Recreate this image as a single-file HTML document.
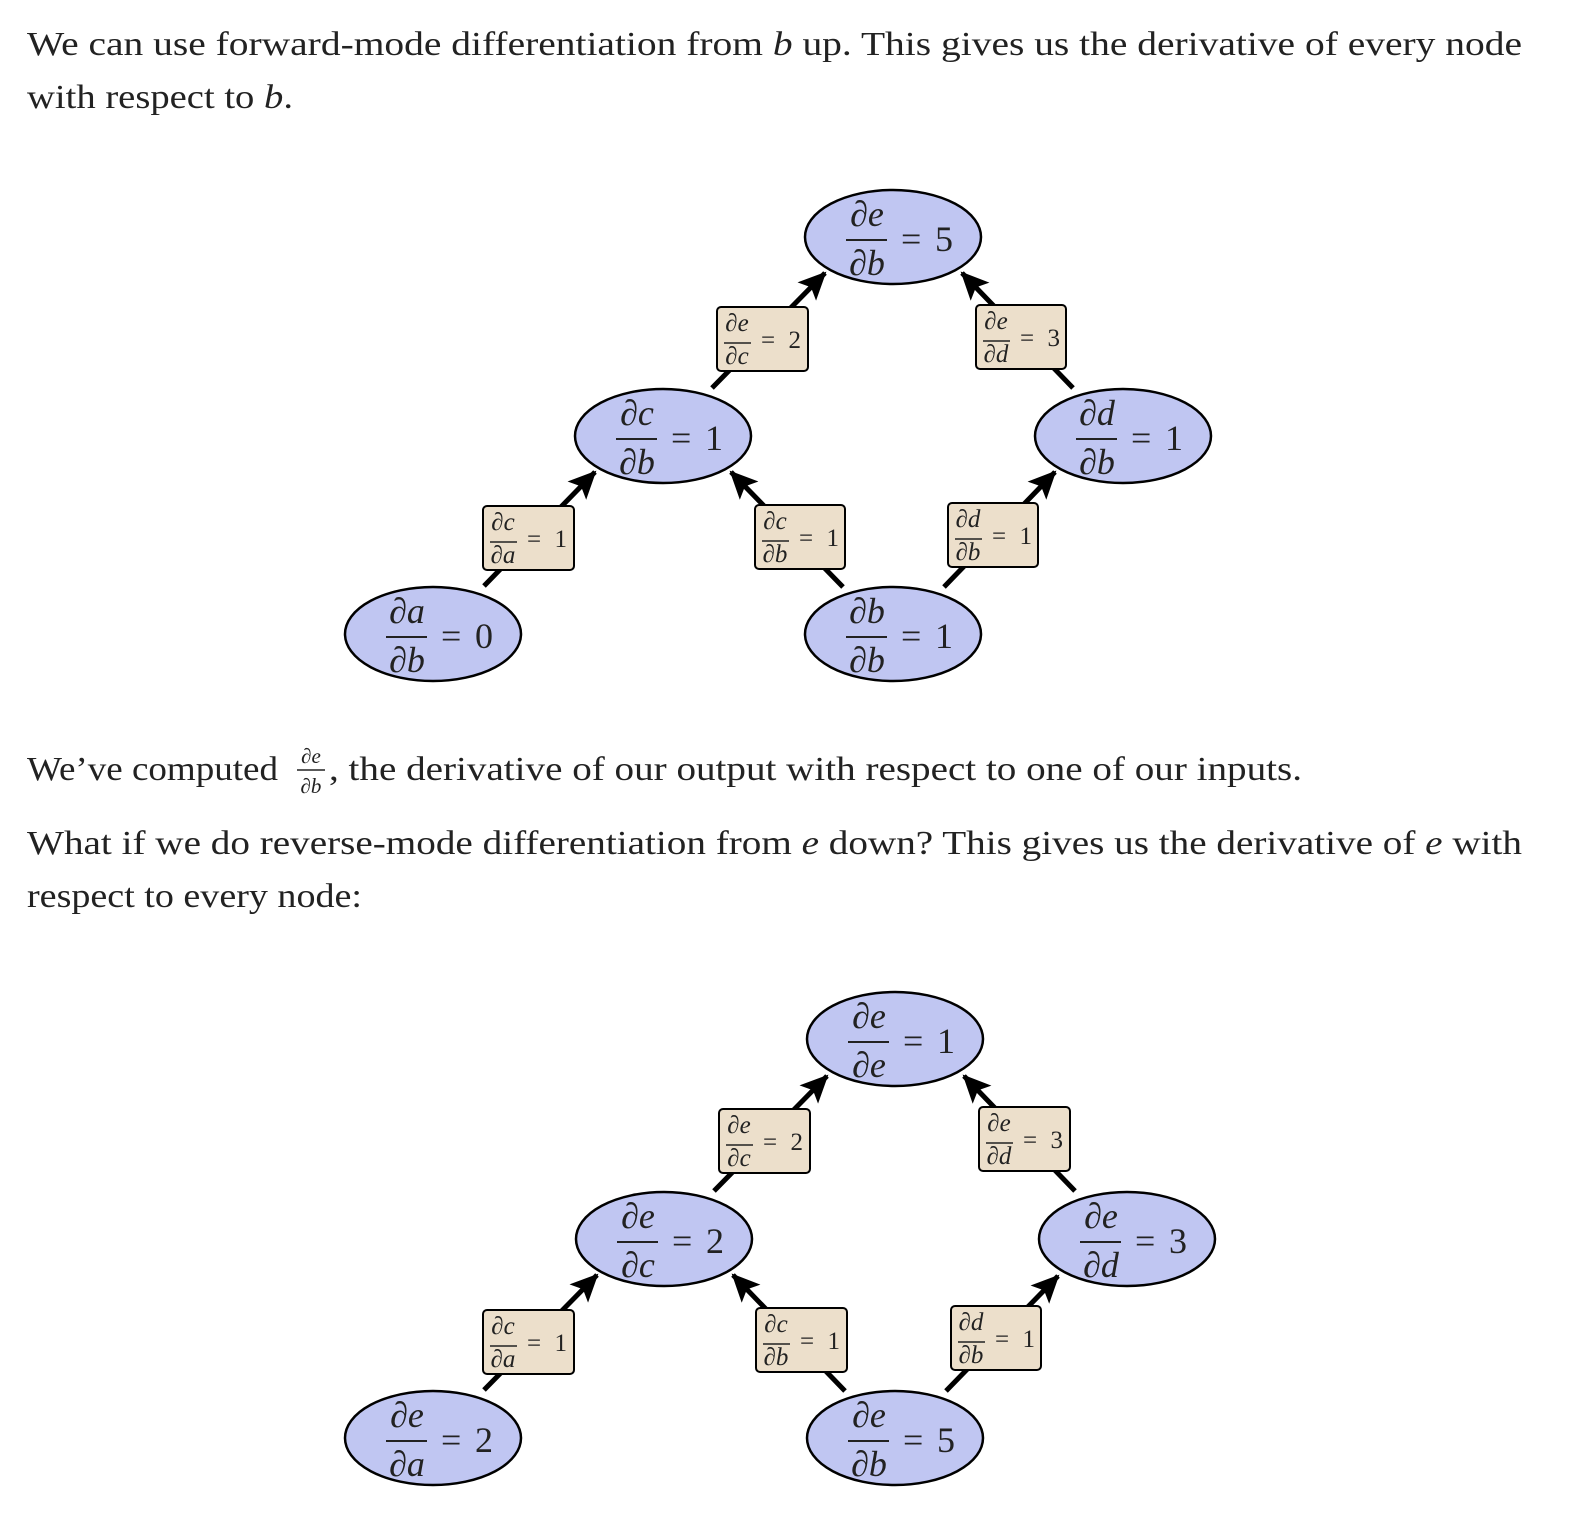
<!DOCTYPE html>
<html><head><meta charset="utf-8"><style>
html,body{margin:0;padding:0;background:#fff}
svg{display:block}
</style></head><body>
<svg width="1572" height="1522" viewBox="0 0 1572 1522" xmlns="http://www.w3.org/2000/svg" font-family="'Liberation Serif', serif" fill="#222">
<defs>
<marker id="ah" markerUnits="userSpaceOnUse" markerWidth="30" markerHeight="30" refX="26" refY="13" orient="auto" viewBox="0 0 30 26">
<path d="M0,0 L28,13 L0,26 L6,13 Z" fill="#000"/>
</marker>
</defs>
<!-- paragraphs -->
<g font-size="34">
<text x="27" y="55" textLength="1495" lengthAdjust="spacingAndGlyphs">We can use forward-mode differentiation from <tspan font-style="italic">b</tspan> up. This gives us the derivative of every node</text>
<text x="27" y="108" textLength="266" lengthAdjust="spacingAndGlyphs">with respect to <tspan font-style="italic">b</tspan>.</text>

<text x="27" y="780" textLength="251" lengthAdjust="spacingAndGlyphs">We’ve computed</text>
<text x="329" y="780" textLength="973" lengthAdjust="spacingAndGlyphs">, the derivative of our output with respect to one of our inputs.</text>

<text x="27" y="854" textLength="1495" lengthAdjust="spacingAndGlyphs">What if we do reverse-mode differentiation from <tspan font-style="italic">e</tspan> down? This gives us the derivative of <tspan font-style="italic">e</tspan> with</text>
<text x="27" y="907" textLength="335" lengthAdjust="spacingAndGlyphs">respect to every node:</text>
</g>
<text x="311" y="763" font-size="21" font-style="italic" text-anchor="middle">∂e</text>
<line x1="297" y1="770" x2="325" y2="770" stroke="#222" stroke-width="1.5"/>
<text x="311" y="793" font-size="21" font-style="italic" text-anchor="middle">∂b</text>

<g stroke="#000" stroke-width="5" marker-end="url(#ah)">
<line x1="484" y1="586" x2="595" y2="472"/>
<line x1="843" y1="587" x2="731" y2="472"/>
<line x1="944" y1="587" x2="1055" y2="472"/>
<line x1="712" y1="388" x2="825" y2="273"/>
<line x1="1073" y1="388" x2="962" y2="273"/>
<line x1="484" y1="1390" x2="597" y2="1275"/>
<line x1="845" y1="1391" x2="733" y2="1275"/>
<line x1="946" y1="1391" x2="1058" y2="1276"/>
<line x1="714" y1="1191" x2="827" y2="1076"/>
<line x1="1075" y1="1191" x2="964" y2="1076"/>
</g>

<!-- nodes -->
<g font-size="36">
<g transform="translate(893,237)"><ellipse rx="88" ry="47" fill="#c0c6f2" stroke="#000" stroke-width="2.5"/><text x="-26" y="-11" font-style="italic" text-anchor="middle">∂e</text><line x1="-47" y1="3" x2="-6" y2="3" stroke="#222" stroke-width="2"/><text x="-26" y="38" font-style="italic" text-anchor="middle">∂b</text><text x="8" y="14" textLength="52" lengthAdjust="spacing">= 5</text></g>
<g transform="translate(663,436)"><ellipse rx="88" ry="47" fill="#c0c6f2" stroke="#000" stroke-width="2.5"/><text x="-26" y="-11" font-style="italic" text-anchor="middle">∂c</text><line x1="-47" y1="3" x2="-6" y2="3" stroke="#222" stroke-width="2"/><text x="-26" y="38" font-style="italic" text-anchor="middle">∂b</text><text x="8" y="14" textLength="52" lengthAdjust="spacing">= 1</text></g>
<g transform="translate(1123,436)"><ellipse rx="88" ry="47" fill="#c0c6f2" stroke="#000" stroke-width="2.5"/><text x="-26" y="-11" font-style="italic" text-anchor="middle">∂d</text><line x1="-47" y1="3" x2="-6" y2="3" stroke="#222" stroke-width="2"/><text x="-26" y="38" font-style="italic" text-anchor="middle">∂b</text><text x="8" y="14" textLength="52" lengthAdjust="spacing">= 1</text></g>
<g transform="translate(433,634)"><ellipse rx="88" ry="47" fill="#c0c6f2" stroke="#000" stroke-width="2.5"/><text x="-26" y="-11" font-style="italic" text-anchor="middle">∂a</text><line x1="-47" y1="3" x2="-6" y2="3" stroke="#222" stroke-width="2"/><text x="-26" y="38" font-style="italic" text-anchor="middle">∂b</text><text x="8" y="14" textLength="52" lengthAdjust="spacing">= 0</text></g>
<g transform="translate(893,634)"><ellipse rx="88" ry="47" fill="#c0c6f2" stroke="#000" stroke-width="2.5"/><text x="-26" y="-11" font-style="italic" text-anchor="middle">∂b</text><line x1="-47" y1="3" x2="-6" y2="3" stroke="#222" stroke-width="2"/><text x="-26" y="38" font-style="italic" text-anchor="middle">∂b</text><text x="8" y="14" textLength="52" lengthAdjust="spacing">= 1</text></g>

<g transform="translate(895,1039)"><ellipse rx="88" ry="47" fill="#c0c6f2" stroke="#000" stroke-width="2.5"/><text x="-26" y="-11" font-style="italic" text-anchor="middle">∂e</text><line x1="-47" y1="3" x2="-6" y2="3" stroke="#222" stroke-width="2"/><text x="-26" y="38" font-style="italic" text-anchor="middle">∂e</text><text x="8" y="14" textLength="52" lengthAdjust="spacing">= 1</text></g>
<g transform="translate(664,1239)"><ellipse rx="88" ry="47" fill="#c0c6f2" stroke="#000" stroke-width="2.5"/><text x="-26" y="-11" font-style="italic" text-anchor="middle">∂e</text><line x1="-47" y1="3" x2="-6" y2="3" stroke="#222" stroke-width="2"/><text x="-26" y="38" font-style="italic" text-anchor="middle">∂c</text><text x="8" y="14" textLength="52" lengthAdjust="spacing">= 2</text></g>
<g transform="translate(1127,1239)"><ellipse rx="88" ry="47" fill="#c0c6f2" stroke="#000" stroke-width="2.5"/><text x="-26" y="-11" font-style="italic" text-anchor="middle">∂e</text><line x1="-47" y1="3" x2="-6" y2="3" stroke="#222" stroke-width="2"/><text x="-26" y="38" font-style="italic" text-anchor="middle">∂d</text><text x="8" y="14" textLength="52" lengthAdjust="spacing">= 3</text></g>
<g transform="translate(433,1438)"><ellipse rx="88" ry="47" fill="#c0c6f2" stroke="#000" stroke-width="2.5"/><text x="-26" y="-11" font-style="italic" text-anchor="middle">∂e</text><line x1="-47" y1="3" x2="-6" y2="3" stroke="#222" stroke-width="2"/><text x="-26" y="38" font-style="italic" text-anchor="middle">∂a</text><text x="8" y="14" textLength="52" lengthAdjust="spacing">= 2</text></g>
<g transform="translate(895,1438)"><ellipse rx="88" ry="47" fill="#c0c6f2" stroke="#000" stroke-width="2.5"/><text x="-26" y="-11" font-style="italic" text-anchor="middle">∂e</text><line x1="-47" y1="3" x2="-6" y2="3" stroke="#222" stroke-width="2"/><text x="-26" y="38" font-style="italic" text-anchor="middle">∂b</text><text x="8" y="14" textLength="52" lengthAdjust="spacing">= 5</text></g>
</g>

<!-- edge labels -->
<g font-size="25">
<g transform="translate(717,307)"><rect x="0" y="0" width="91" height="64" rx="4" fill="#ecdfcb" stroke="#000" stroke-width="2"/><text x="20" y="24" font-style="italic" text-anchor="middle">∂e</text><line x1="7" y1="36" x2="34" y2="36" stroke="#222" stroke-width="1.5"/><text x="20" y="57" font-style="italic" text-anchor="middle">∂c</text><text x="44" y="41" textLength="40" lengthAdjust="spacing">= 2</text></g>
<g transform="translate(976,305)"><rect x="0" y="0" width="90" height="64" rx="4" fill="#ecdfcb" stroke="#000" stroke-width="2"/><text x="20" y="24" font-style="italic" text-anchor="middle">∂e</text><line x1="7" y1="36" x2="34" y2="36" stroke="#222" stroke-width="1.5"/><text x="20" y="57" font-style="italic" text-anchor="middle">∂d</text><text x="44" y="41" textLength="40" lengthAdjust="spacing">= 3</text></g>
<g transform="translate(483,506)"><rect x="0" y="0" width="91" height="64" rx="4" fill="#ecdfcb" stroke="#000" stroke-width="2"/><text x="20" y="24" font-style="italic" text-anchor="middle">∂c</text><line x1="7" y1="36" x2="34" y2="36" stroke="#222" stroke-width="1.5"/><text x="20" y="57" font-style="italic" text-anchor="middle">∂a</text><text x="44" y="41" textLength="40" lengthAdjust="spacing">= 1</text></g>
<g transform="translate(755,505)"><rect x="0" y="0" width="90" height="64" rx="4" fill="#ecdfcb" stroke="#000" stroke-width="2"/><text x="20" y="24" font-style="italic" text-anchor="middle">∂c</text><line x1="7" y1="36" x2="34" y2="36" stroke="#222" stroke-width="1.5"/><text x="20" y="57" font-style="italic" text-anchor="middle">∂b</text><text x="44" y="41" textLength="40" lengthAdjust="spacing">= 1</text></g>
<g transform="translate(948,503)"><rect x="0" y="0" width="90" height="64" rx="4" fill="#ecdfcb" stroke="#000" stroke-width="2"/><text x="20" y="24" font-style="italic" text-anchor="middle">∂d</text><line x1="7" y1="36" x2="34" y2="36" stroke="#222" stroke-width="1.5"/><text x="20" y="57" font-style="italic" text-anchor="middle">∂b</text><text x="44" y="41" textLength="40" lengthAdjust="spacing">= 1</text></g>

<g transform="translate(719,1109)"><rect x="0" y="0" width="91" height="64" rx="4" fill="#ecdfcb" stroke="#000" stroke-width="2"/><text x="20" y="24" font-style="italic" text-anchor="middle">∂e</text><line x1="7" y1="36" x2="34" y2="36" stroke="#222" stroke-width="1.5"/><text x="20" y="57" font-style="italic" text-anchor="middle">∂c</text><text x="44" y="41" textLength="40" lengthAdjust="spacing">= 2</text></g>
<g transform="translate(979,1107)"><rect x="0" y="0" width="91" height="64" rx="4" fill="#ecdfcb" stroke="#000" stroke-width="2"/><text x="20" y="24" font-style="italic" text-anchor="middle">∂e</text><line x1="7" y1="36" x2="34" y2="36" stroke="#222" stroke-width="1.5"/><text x="20" y="57" font-style="italic" text-anchor="middle">∂d</text><text x="44" y="41" textLength="40" lengthAdjust="spacing">= 3</text></g>
<g transform="translate(483,1310)"><rect x="0" y="0" width="91" height="64" rx="4" fill="#ecdfcb" stroke="#000" stroke-width="2"/><text x="20" y="24" font-style="italic" text-anchor="middle">∂c</text><line x1="7" y1="36" x2="34" y2="36" stroke="#222" stroke-width="1.5"/><text x="20" y="57" font-style="italic" text-anchor="middle">∂a</text><text x="44" y="41" textLength="40" lengthAdjust="spacing">= 1</text></g>
<g transform="translate(756,1308)"><rect x="0" y="0" width="91" height="64" rx="4" fill="#ecdfcb" stroke="#000" stroke-width="2"/><text x="20" y="24" font-style="italic" text-anchor="middle">∂c</text><line x1="7" y1="36" x2="34" y2="36" stroke="#222" stroke-width="1.5"/><text x="20" y="57" font-style="italic" text-anchor="middle">∂b</text><text x="44" y="41" textLength="40" lengthAdjust="spacing">= 1</text></g>
<g transform="translate(951,1306)"><rect x="0" y="0" width="90" height="64" rx="4" fill="#ecdfcb" stroke="#000" stroke-width="2"/><text x="20" y="24" font-style="italic" text-anchor="middle">∂d</text><line x1="7" y1="36" x2="34" y2="36" stroke="#222" stroke-width="1.5"/><text x="20" y="57" font-style="italic" text-anchor="middle">∂b</text><text x="44" y="41" textLength="40" lengthAdjust="spacing">= 1</text></g>
</g>
</svg>
</body></html>
